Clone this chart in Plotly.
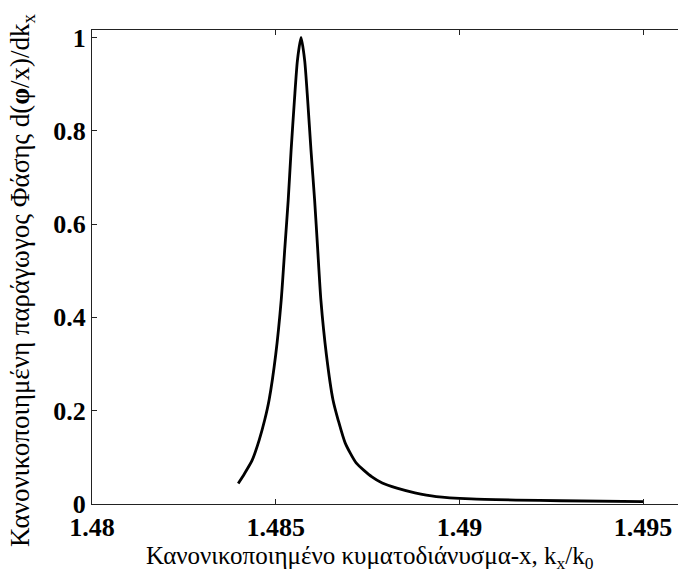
import plotly.graph_objects as go

# Normalized wavevector k_x/k_0 and normalized phase derivative
kx = [1.48398, 1.48415, 1.48436, 1.48455, 1.48470, 1.48482, 1.48500,
      1.48515, 1.48525, 1.48534, 1.48542, 1.48551, 1.48559, 1.48569,
      1.48579, 1.48587, 1.48596, 1.48606, 1.48614, 1.48623, 1.48638,
      1.48656, 1.48670, 1.48689, 1.48719, 1.48762, 1.48790, 1.48830,
      1.48879, 1.48937, 1.49032, 1.49154, 1.49277, 1.49500]
dphi = [0.044, 0.065, 0.094, 0.137, 0.180, 0.223, 0.320,
        0.437, 0.550, 0.651, 0.759, 0.866, 0.950, 1.000,
        0.950, 0.866, 0.759, 0.651, 0.550, 0.437, 0.320,
        0.223, 0.180, 0.131, 0.088, 0.058, 0.045, 0.034,
        0.024, 0.016, 0.011, 0.0085, 0.007, 0.005]

x_ticks = [1.48, 1.485, 1.49, 1.495]
x_tick_text = ["1.48", "1.485", "1.49", "1.495"]
y_ticks = [0, 0.2, 0.4, 0.6, 0.8, 1]
y_tick_text = ["0", "0.2", "0.4", "0.6", "0.8", "1"]

x_title = "Κανονικοποιημένο κυματοδιάνυσμα-x, k<sub>x</sub>/k<sub>0</sub>"
y_title = "Κανονικοποιημένη παράγωγος Φάσης d(<b>φ</b>/x)/dk<sub>x</sub>"

serif = "Liberation Serif, Times New Roman, serif"

fig = go.Figure()
fig.add_trace(go.Scatter(
    x=kx, y=dphi, mode="lines",
    line=dict(color="black", width=2.8, shape="spline", smoothing=0.6),
    showlegend=False,
))

axis_common = dict(
    showgrid=False, zeroline=False,
    showline=True, linecolor="#222", linewidth=1,
    ticks="inside", ticklen=5, tickcolor="#222",
    tickfont=dict(family=serif, size=26, color="black", weight="bold"),
)

fig.update_layout(
    width=678, height=580,
    margin=dict(l=92, r=0, t=30, b=76),
    paper_bgcolor="white", plot_bgcolor="white",
    xaxis=dict(
        range=[1.48, 1.49595], tickvals=x_ticks,
        ticktext=[f"<b>{t}</b>" for t in x_tick_text],
        mirror="ticks",
        **axis_common,
    ),
    yaxis=dict(
        range=[0, 1.016], tickvals=y_ticks,
        ticktext=[f"<b>{t}</b>" for t in y_tick_text],
        **axis_common,
    ),
    annotations=[
        dict(text=x_title, xref="paper", yref="paper", x=0.474, y=-0.112,
             xanchor="center", yanchor="middle", showarrow=False,
             font=dict(family=serif, size=25, color="black")),
        dict(text=y_title, xref="paper", yref="paper", x=-0.1195, y=0.4726,
             xanchor="center", yanchor="middle", showarrow=False, textangle=-90,
             font=dict(family=serif, size=27, color="black")),
    ],
)

fig.write_html("out.html")
